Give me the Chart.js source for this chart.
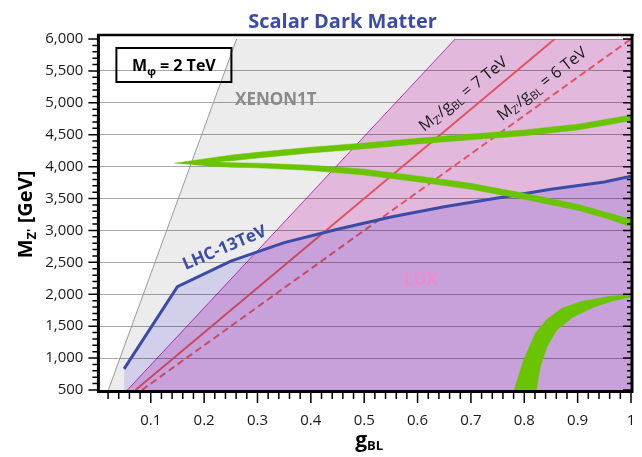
<!DOCTYPE html>
<html><head><meta charset="utf-8">
<script src="https://cdn.jsdelivr.net/npm/chart.js@4"></script>
<style>html,body{margin:0;padding:0;background:#fff;}canvas{display:block;}</style>
</head><body>
<canvas id="c" width="642" height="457"></canvas>
<script>
const FONT = '"Open Sans", "Noto Sans", sans-serif';

// ---- data (g_BL, M_Z' [GeV]) ----
const xenonG = [0.0205, 0.261, 1.0];
const xenonM = [500, 6000, 6000];
const luxG = [0.0562, 0.6705, 1.0];
const luxM = [500, 6000, 6000];
const tev7G = [0.0714, 0.8571];
const tev7M = [500, 6000];
const tev6G = [0.0833, 1.0];
const tev6M = [500, 6000];
const lhcG = [0.05, 0.15, 0.25, 0.35, 0.45, 0.55, 0.65, 0.75, 0.85, 0.95, 1.0];
const lhcM = [830, 2120, 2520, 2810, 3020, 3210, 3370, 3510, 3645, 3760, 3850];
// green allowed band (closed outline)
const bandG = [0.1436, 0.20, 0.252, 0.30, 0.40, 0.50, 0.60, 0.70, 0.80, 0.90, 1.0,
               1.0, 0.90, 0.80, 0.70, 0.60, 0.50, 0.40, 0.30, 0.252, 0.222,
               0.252, 0.30, 0.40, 0.50, 0.60, 0.70, 0.80, 0.90, 0.955, 1.0,
               1.0, 0.955, 0.90, 0.80, 0.70, 0.60, 0.50, 0.40, 0.30, 0.252, 0.20];
const bandM = [4052, 4120, 4182, 4225, 4305, 4370, 4445, 4510, 4575, 4665, 4810,
               4720, 4575, 4485, 4420, 4355, 4280, 4215, 4135, 4093, 4078,
               4062, 4055, 4022, 3960, 3855, 3738, 3582, 3410, 3280, 3175,
               3059, 3188, 3318, 3488, 3645, 3762, 3868, 3940, 3982, 3990, 4015];
const blobG = [0.7811, 0.7987, 0.8206, 0.8425, 0.8706, 0.905, 0.955, 1.0,
               1.0, 0.967, 0.93, 0.892, 0.861, 0.8425, 0.83, 0.8224];
const blobM = [500, 970, 1388, 1608, 1780, 1884, 1962, 1995,
               1953, 1900, 1796, 1649, 1440, 1178, 865, 500];

// axis ticks
const xMin = 0, xMax = 1, xStep = 0.1, xMinorStep = 0.02;
const yMin = 500, yMax = 6000, yStep = 500, yMinorStep = 100;

const pts = (g, m) => g.map((v, i) => ({x: v, y: m[i]}));

const GREEN = 'rgb(106,196,0)';
const BLUE = 'rgb(58,76,166)';
const RED = 'rgb(224,84,100)';

const datasets = [
  {label: 'XENON1T', data: pts(xenonG, xenonM), fill: 'start', backgroundColor: '#ececec',
   borderWidth: 0, borderColor: 'rgba(0,0,0,0)', blend: 'multiply'},
  {label: 'XENON1T edge', data: pts(xenonG.slice(0, 2), xenonM.slice(0, 2)), fill: false,
   borderWidth: 1, borderColor: '#9a9a9a'},
  {label: 'LUX', data: pts(luxG, luxM), fill: 'start', backgroundColor: 'rgb(246,199,239)',
   borderWidth: 1, borderColor: 'rgb(205,70,200)', blend: 'multiply'},
  {label: '7 TeV', data: pts(tev7G, tev7M), fill: false, borderColor: RED, borderWidth: 2},
  {label: '6 TeV', data: pts(tev6G, tev6M), fill: false, borderColor: RED, borderWidth: 2, borderDash: [7, 4]},
  {label: 'LHC fill', data: pts(lhcG, lhcM), fill: 'start', backgroundColor: 'rgb(226,224,252)',
   borderWidth: 0, borderColor: 'rgba(0,0,0,0)', blend: 'multiply'},
  {label: 'LHC-13TeV', data: pts(lhcG, lhcM), fill: false, borderColor: BLUE, borderWidth: 3},
  {label: 'band', data: pts(bandG, bandM), fill: 'shape', backgroundColor: GREEN, borderColor: GREEN, borderWidth: 0.5},
  {label: 'blob', data: pts(blobG, blobM), fill: 'shape', backgroundColor: GREEN, borderColor: GREEN, borderWidth: 0.5}
];
datasets.forEach((d, i) => { d.order = datasets.length - i; d.pointRadius = 0; d.tension = 0; });

const bgPlugin = {
  id: 'bg',
  beforeDraw(chart) {
    const c = chart.ctx; c.save(); c.fillStyle = '#fff'; c.fillRect(0, 0, chart.width, chart.height); c.restore();
  }
};

function blendOf(chart, meta) { return (meta && chart.data.datasets[meta.index].blend) || 'source-over'; }
const blendPlugin = {
  id: 'blend',
  beforeDatasetsDraw(chart) {
    const metas = chart.getSortedVisibleDatasetMetas();
    chart.ctx.globalCompositeOperation = blendOf(chart, metas[metas.length - 1]);
  },
  afterDatasetDraw(chart, args) {
    const metas = chart.getSortedVisibleDatasetMetas();
    const pos = metas.findIndex(m => m.index === args.index);
    chart.ctx.globalCompositeOperation = blendOf(chart, metas[pos - 1]);
  },
  afterDatasetsDraw(chart) { chart.ctx.globalCompositeOperation = 'source-over'; }
};

function rich(ctx, parts, x, y, align, angle, color) {
  ctx.save();
  ctx.translate(x, y);
  if (angle) ctx.rotate(angle * Math.PI / 180);
  ctx.fillStyle = color; ctx.textAlign = 'left'; ctx.textBaseline = 'alphabetic';
  let w = 0;
  parts.forEach(p => { ctx.font = p.f; w += ctx.measureText(p.t).width; });
  let cx = align === 'center' ? -w / 2 : (align === 'right' ? -w : 0);
  parts.forEach(p => { ctx.font = p.f; ctx.fillText(p.t, cx, p.dy || 0); cx += ctx.measureText(p.t).width; });
  ctx.restore();
}

const decoPlugin = {
  id: 'deco',
  afterDraw(chart) {
    const {ctx, chartArea: a, scales: {x, y}} = chart;
    ctx.save();
    // tick marks
    ctx.strokeStyle = '#000'; ctx.lineWidth = 1.5;
    ctx.beginPath();
    const ny = Math.round((yMax - yMin) / yMinorStep);
    for (let i = 0; i <= ny; i++) {
      const v = yMin + i * yMinorStep;
      const py = y.getPixelForValue(v);
      const major = (i * yMinorStep) % yStep === 0;
      ctx.moveTo(a.left - (major ? 9 : 5), py); ctx.lineTo(a.left, py);
      ctx.moveTo(a.right, py); ctx.lineTo(a.right - (major ? 8 : 4), py);
    }
    const nx = Math.round((xMax - xMin) / xMinorStep);
    const per = Math.round(xStep / xMinorStep);
    for (let i = 1; i <= nx; i++) {
      const px = x.getPixelForValue(xMin + i * xMinorStep);
      const major = i % per === 0;
      ctx.moveTo(px, a.bottom); ctx.lineTo(px, a.bottom + (major ? 13 : 9));
    }
    ctx.stroke();
    // frame
    ctx.lineWidth = 3;
    ctx.beginPath();
    ctx.moveTo(a.left + 1, a.top - 5); ctx.lineTo(a.left + 1, a.bottom + 3);
    ctx.moveTo(a.left - 0.5, a.bottom + 1.5); ctx.lineTo(a.right + 2.5, a.bottom + 1.5);
    ctx.moveTo(a.right + 1, a.top - 5); ctx.lineTo(a.right + 1, a.bottom + 3);
    ctx.stroke();
    ctx.lineWidth = 2.5;
    ctx.beginPath(); ctx.moveTo(a.left, a.top - 4); ctx.lineTo(a.right + 2.5, a.top - 4); ctx.stroke();

    // title
    rich(ctx, [{t: 'Scalar Dark Matter', f: 'bold 20px ' + FONT}], 342.5, 28, 'center', 0, BLUE);

    // mass box
    ctx.strokeStyle = '#000'; ctx.lineWidth = 2;
    ctx.strokeRect(a.left + 19, a.top + 9, 115, 34);
    rich(ctx, [{t: 'M', f: 'bold 16px ' + FONT}, {t: 'φ', f: 'bold 11px ' + FONT, dy: 4},
               {t: ' = 2 TeV', f: 'bold 16px ' + FONT}], a.left + 76.5, a.top + 31.5, 'center', 0, '#000');

    const P = (g, m) => [x.getPixelForValue(g), y.getPixelForValue(m)];
    let p;
    p = P(0.258, 5055);
    rich(ctx, [{t: 'XENON1T', f: 'bold 17px ' + FONT}], p[0], p[1] + 6, 'left', 0, '#8a8a8a');
    p = P(0.606, 2232);
    rich(ctx, [{t: 'LUX', f: 'bold 17px ' + FONT}], p[0], p[1] + 6, 'center', 0, 'rgb(236,140,206)');
    p = P(0.2378, 2741);
    ctx.save(); ctx.translate(p[0], p[1]); ctx.rotate(-23 * Math.PI / 180);
    rich(ctx, [{t: 'LHC-13TeV', f: 'bold 17px ' + FONT}], 0, 6, 'center', 0, BLUE);
    ctx.restore();

    const ratioLabel = (val) => [
      {t: 'M', f: '16px ' + FONT}, {t: "Z'", f: '11px ' + FONT, dy: 3},
      {t: '/g', f: '16px ' + FONT}, {t: 'BL', f: '11px ' + FONT, dy: 3},
      {t: ' = ' + val + ' TeV', f: '16px ' + FONT}];
    p = P(0.6855, 5138);
    ctx.save(); ctx.translate(p[0], p[1]); ctx.rotate(-39 * Math.PI / 180);
    rich(ctx, ratioLabel(7), 0, 5, 'center', 0, '#1a1a1a'); ctx.restore();
    p = P(0.833, 5295);
    ctx.save(); ctx.translate(p[0], p[1]); ctx.rotate(-38 * Math.PI / 180);
    rich(ctx, ratioLabel(6), 0, 5, 'center', 0, '#1a1a1a'); ctx.restore();

    // axis titles
    rich(ctx, [{t: 'g', f: 'bold 21px ' + FONT}, {t: 'BL', f: 'bold 13px ' + FONT, dy: 3}],
         (a.left + a.right) / 2 + 5, 447, 'center', 0, '#000');
    ctx.save(); ctx.translate(32, (a.top + a.bottom) / 2); ctx.rotate(-Math.PI / 2);
    rich(ctx, [{t: 'M', f: 'bold 20px ' + FONT}, {t: "Z'", f: 'bold 13px ' + FONT, dy: 4},
               {t: ' [GeV]', f: 'bold 20px ' + FONT}], 0, 0, 'center', 0, '#000');
    ctx.restore();
    ctx.restore();
  }
};

new Chart(document.getElementById('c'), {
  type: 'line',
  data: {datasets},
  options: {
    responsive: false, animation: false, events: [],
    layout: {padding: {top: 39, right: 11, left: 0, bottom: 0}},
    plugins: {legend: {display: false}, tooltip: {enabled: false}, title: {display: false}},
    scales: {
      x: {type: 'linear', min: xMin, max: xMax,
          afterFit: s => { s.height = 67; },
          grid: {display: false, drawTicks: false}, border: {display: false},
          ticks: {stepSize: xStep, autoSkip: false, maxRotation: 0, padding: 0, color: '#1a1a1a',
                  font: {family: FONT, size: 15, lineHeight: '61px'},
                  callback: v => (Math.abs(v) < 1e-9 ? '' : String(+Number(v).toFixed(1)))}},
      y: {type: 'linear', min: yMin, max: yMax,
          afterFit: s => { s.width = 97.4; },
          grid: {drawTicks: false, color: c => (c.tick && c.tick.value > yMin && c.tick.value < yMax) ? '#a8a8a8' : 'rgba(0,0,0,0)'},
          border: {display: false},
          ticks: {stepSize: yStep, autoSkip: false, padding: 14, color: '#1a1a1a',
                  font: {family: FONT, size: 15},
                  callback: v => Number(v).toLocaleString('en-US')}}
    }
  },
  plugins: [bgPlugin, blendPlugin, decoPlugin]
});
</script>
</body></html>
